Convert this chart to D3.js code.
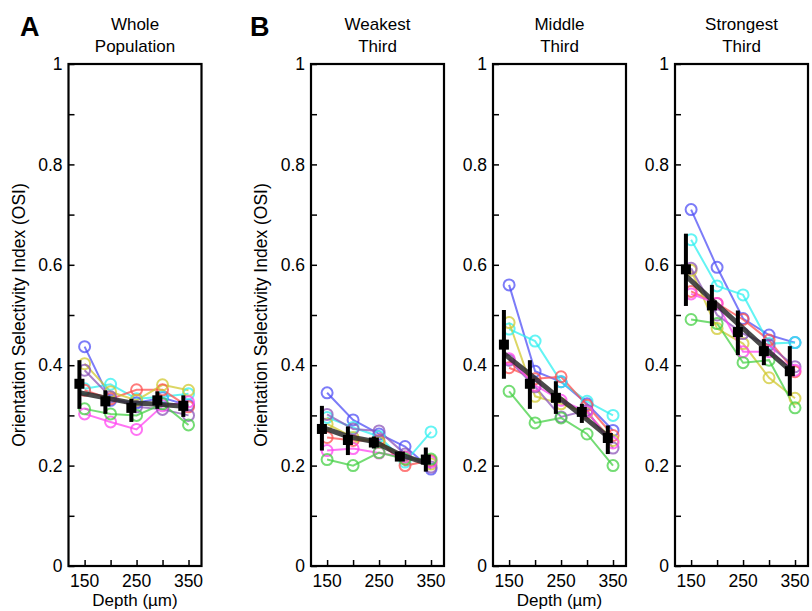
<!DOCTYPE html>
<html><head><meta charset="utf-8">
<script src="https://cdn.jsdelivr.net/npm/d3@7"></script>
<style>body{margin:0;background:#fff}svg{display:block}text{font-family:"Liberation Sans",Arial,sans-serif;fill:#000}</style>
</head><body><svg id="c" width="812" height="611"></svg>
<script>
const depths = [150, 200, 250, 300, 350];
const meanDepths = [140, 190, 240, 290, 340];
const xTickLabels = ["150", "", "250", "", "350"];
const yTicks = [0, 0.1, 0.2, 0.3, 0.4, 0.5, 0.6, 0.7, 0.8, 0.9, 1];
const yTickLabels = ["0", "", "0.2", "", "0.4", "", "0.6", "", "0.8", "", "1"];
const panelTitles = [["Whole", "Population"], ["Weakest", "Third"], ["Middle", "Third"], ["Strongest", "Third"]];
const seriesColors = ["#5050f5", "#30f0f0", "#ff4f4f", "#d0c830", "#8c55b8", "#ff45f0", "#45d045"];

// series order: blue, cyan, red, yellow, purple, magenta, green
const wholeSeries = [
  [0.437, 0.33, 0.325, 0.335, 0.32],
  [0.353, 0.362, 0.333, 0.337, 0.343],
  [0.35, 0.333, 0.351, 0.351, 0.317],
  [0.403, 0.347, 0.33, 0.361, 0.35],
  [0.39, 0.337, 0.317, 0.312, 0.3],
  [0.303, 0.287, 0.272, 0.319, 0.327],
  [0.313, 0.303, 0.3, 0.323, 0.281]
];
const wholeMean = [0.363, 0.328, 0.315, 0.33, 0.319];
const wholeLo = [0.313, 0.303, 0.287, 0.313, 0.297];
const wholeHi = [0.41, 0.35, 0.333, 0.348, 0.34];
const wholeTrend = [0.345, 0.335, 0.325, 0.322, 0.318];

const weakSeries = [
  [0.345, 0.291, 0.263, 0.238, 0.193],
  [0.296, 0.276, 0.258, 0.207, 0.267],
  [0.256, 0.25, 0.25, 0.2, 0.21],
  [0.283, 0.256, 0.246, 0.217, 0.203],
  [0.302, 0.273, 0.269, 0.223, 0.197],
  [0.23, 0.234, 0.225, 0.217, 0.207],
  [0.212, 0.2, 0.226, 0.213, 0.213]
];
const weakMean = [0.273, 0.251, 0.246, 0.218, 0.212];
const weakLo = [0.23, 0.221, 0.234, 0.21, 0.188];
const weakHi = [0.319, 0.278, 0.258, 0.228, 0.236];
const weakTrend = [0.276, 0.258, 0.248, 0.222, 0.205];

const middleSeries = [
  [0.56, 0.388, 0.367, 0.323, 0.27],
  [0.472, 0.448, 0.367, 0.328, 0.3],
  [0.395, 0.373, 0.377, 0.32, 0.26],
  [0.485, 0.338, 0.323, 0.305, 0.25],
  [0.41, 0.357, 0.297, 0.31, 0.235],
  [0.413, 0.36, 0.33, 0.307, 0.245],
  [0.348, 0.285, 0.295, 0.263, 0.2]
];
const middleMean = [0.441, 0.363, 0.335, 0.307, 0.255];
const middleLo = [0.373, 0.313, 0.303, 0.285, 0.223];
const middleHi = [0.51, 0.41, 0.368, 0.323, 0.28];
const middleTrend = [0.423, 0.382, 0.34, 0.3, 0.258];

const strongSeries = [
  [0.71, 0.595, 0.493, 0.46, 0.445],
  [0.65, 0.558, 0.54, 0.443, 0.445],
  [0.547, 0.523, 0.491, 0.45, 0.387],
  [0.589, 0.473, 0.443, 0.375, 0.334],
  [0.593, 0.5, 0.463, 0.44, 0.397],
  [0.542, 0.523, 0.427, 0.427, 0.39],
  [0.491, 0.483, 0.405, 0.41, 0.315]
];
const strongMean = [0.591, 0.519, 0.466, 0.428, 0.388];
const strongLo = [0.518, 0.478, 0.42, 0.4, 0.339];
const strongHi = [0.662, 0.56, 0.509, 0.452, 0.438];
const strongTrend = [0.578, 0.53, 0.483, 0.436, 0.39];

const panels = [
  {series: wholeSeries, mean: wholeMean, lo: wholeLo, hi: wholeHi, trend: wholeTrend},
  {series: weakSeries, mean: weakMean, lo: weakLo, hi: weakHi, trend: weakTrend},
  {series: middleSeries, mean: middleMean, lo: middleLo, hi: middleHi, trend: middleTrend},
  {series: strongSeries, mean: strongMean, lo: strongLo, hi: strongHi, trend: strongTrend}
];
const panelLefts = [68.5, 311, 493, 675];
const panelW = 133, plotTop = 64, plotBottom = 566;

const svg = d3.select("#c");
const y = d3.scaleLinear().domain([0, 1]).range([plotBottom, plotTop]);

panels.forEach((p, i) => {
  const L = panelLefts[i];
  const x = d3.scaleLinear().domain([119, 375]).range([L, L + panelW]);
  const g = svg.append("g");

  const line = d3.line().x((d, j) => x(depths[j])).y(d => y(d));
  p.series.forEach((s, k) => {
    g.append("path").attr("d", line(s)).attr("fill", "none")
      .attr("stroke", seriesColors[k]).attr("stroke-width", 2).attr("opacity", 0.75);
  });
  p.series.forEach((s, k) => {
    g.selectAll(null).data(s).enter().append("circle")
      .attr("cx", (d, j) => x(depths[j])).attr("cy", d => y(d)).attr("r", 5.5)
      .attr("fill", "none").attr("stroke", seriesColors[k]).attr("stroke-width", 2).attr("opacity", 0.75);
  });
  const tline = d3.line().x((d, j) => x(meanDepths[j])).y(d => y(d));
  g.append("path").attr("d", tline(p.trend)).attr("fill", "none")
    .attr("stroke", "#2a2a2a").attr("stroke-width", 5).attr("opacity", 0.85);
  g.selectAll(null).data(p.mean).enter().append("line")
    .attr("x1", (d, j) => x(meanDepths[j])).attr("x2", (d, j) => x(meanDepths[j]))
    .attr("y1", (d, j) => y(p.lo[j])).attr("y2", (d, j) => y(p.hi[j]))
    .attr("stroke", "#000").attr("stroke-width", 4);
  g.selectAll(null).data(p.mean).enter().append("rect")
    .attr("x", (d, j) => x(meanDepths[j]) - 5).attr("y", d => y(d) - 5)
    .attr("width", 10).attr("height", 10).attr("fill", "#000");

  g.append("rect").attr("x", L).attr("y", plotTop).attr("width", panelW).attr("height", plotBottom - plotTop)
    .attr("fill", "none").attr("stroke", "#000").attr("stroke-width", 2.2);

  const ya = d3.axisRight(y).tickValues(yTicks).tickSize(6).tickFormat("");
  g.append("g").attr("transform", `translate(${L},0)`).call(ya)
    .call(a => a.select(".domain").remove())
    .call(a => a.selectAll("line").attr("stroke-width", 1.5));
  g.selectAll(null).data(yTicks).enter().append("text")
    .attr("x", L - 6).attr("y", d => y(d)).attr("dy", "0.35em")
    .attr("text-anchor", "end").attr("font-size", 17.5)
    .text((d, j) => yTickLabels[j]);

  const xa = d3.axisTop(x).tickValues(depths).tickSize(6).tickFormat("");
  g.append("g").attr("transform", `translate(0,${plotBottom})`).call(xa)
    .call(a => a.select(".domain").remove())
    .call(a => a.selectAll("line").attr("stroke-width", 1.5));
  g.selectAll(null).data(depths).enter().append("text")
    .attr("x", d => x(d)).attr("y", plotBottom + 21)
    .attr("text-anchor", "middle").attr("font-size", 17.5)
    .text((d, j) => xTickLabels[j]);

  const t = g.append("text").attr("text-anchor", "middle").attr("font-size", 17);
  t.append("tspan").attr("x", L + panelW / 2).attr("y", 30).text(panelTitles[i][0]);
  t.append("tspan").attr("x", L + panelW / 2).attr("y", 52).text(panelTitles[i][1]);
});

[panelLefts[0], panelLefts[1]].forEach(L => {
  svg.append("text").attr("transform", `translate(${L - 44},${(plotTop + plotBottom) / 2}) rotate(-90)`)
    .attr("text-anchor", "middle").attr("font-size", 17.5)
    .text("Orientation Selectivity Index (OSI)");
});
[panelLefts[0], panelLefts[2]].forEach(L => {
  svg.append("text").attr("x", L + panelW / 2).attr("y", 606)
    .attr("text-anchor", "middle").attr("font-size", 17).text("Depth (µm)");
});
svg.append("text").attr("x", 20).attr("y", 36).attr("font-size", 27).attr("font-weight", "bold").text("A");
svg.append("text").attr("x", 250).attr("y", 36).attr("font-size", 27).attr("font-weight", "bold").text("B");
</script></body></html>
